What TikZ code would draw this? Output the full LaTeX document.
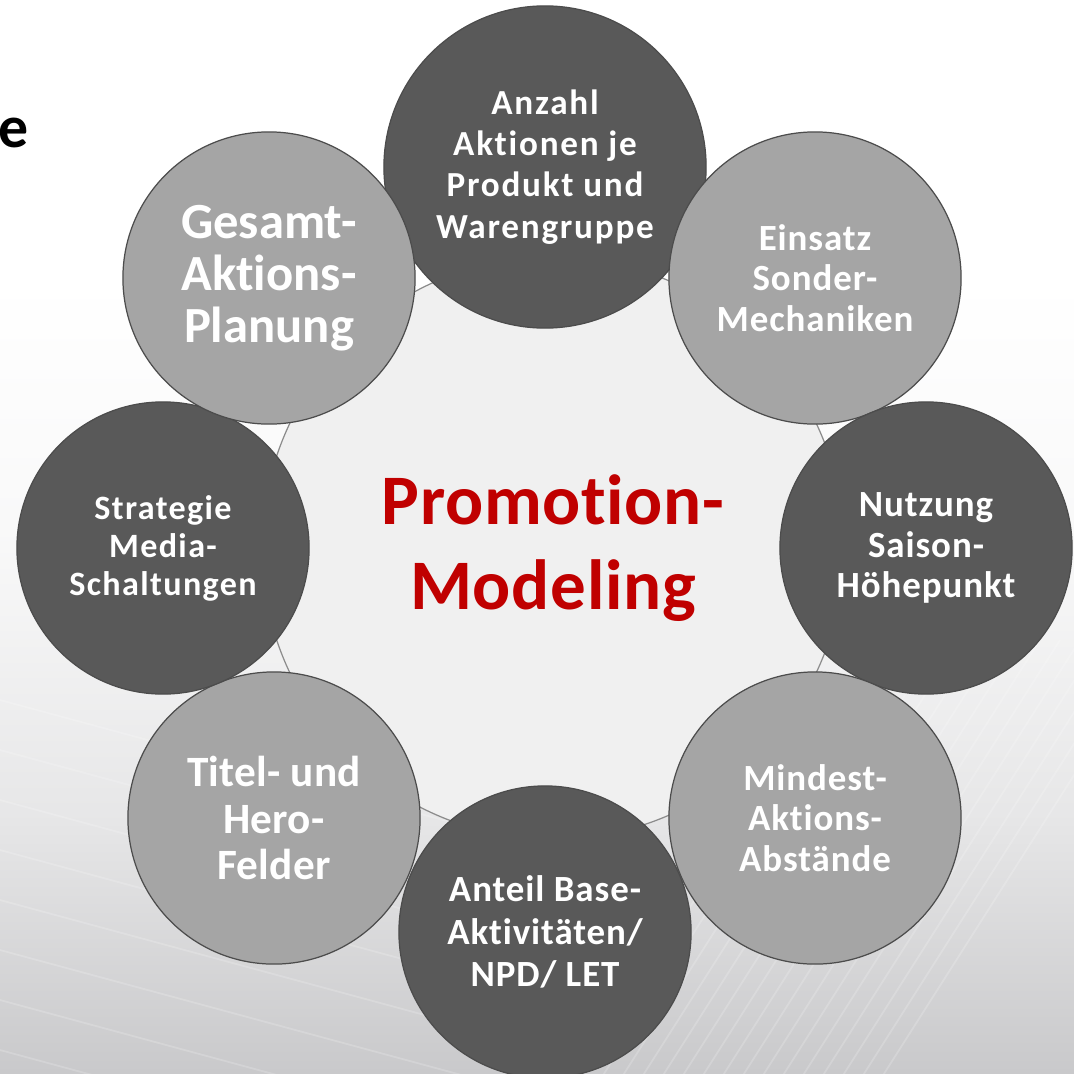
\documentclass[tikz,border=0pt]{standalone}
\usepackage{fontspec}
\setmainfont{Carlito}[Ligatures=NoCommon]
\usetikzlibrary{positioning}

\definecolor{darkfill}{HTML}{595959}
\definecolor{lightfill}{HTML}{A5A5A5}
\definecolor{hubfill}{HTML}{F0F0F0}
\definecolor{hubred}{HTML}{C00000}
\definecolor{bgbot}{HTML}{C9C9CB}

\pgfdeclareverticalshading{bgshade}{100bp}{color(0bp)=(bgbot); color(25bp)=(bgbot); color(37bp)=(bgbot!45!white); color(50bp)=(bgbot!12!white); color(62bp)=(white); color(100bp)=(white)}

\newcommand{\bubfont}[3]{\fontsize{#1}{#2}\selectfont\bfseries\addfontfeatures{LetterSpace=#3}}

\begin{document}
\begin{tikzpicture}[x=0.01cm, y=-0.01cm,
  every node/.style={align=center, text=white},
  bubble/.style={circle, draw=black!70, line width=0.35pt, minimum size=2.92cm, inner sep=0pt},
  darkbub/.style={bubble, fill=darkfill},
  lightbub/.style={bubble, fill=lightfill},
  midfont/.style={font=\bubfont{10.5}{11.6}{2.5}},
  hub/.style={circle, fill=hubfill, draw=black!45, line width=0.35pt, minimum size=5.82cm, inner sep=0pt,
    text=hubred, font=\bubfont{20.2}{24.2}{1}}]
\useasboundingbox (0,0) rectangle (1074,1073);
\path[shading=bgshade] (0,0) rectangle (1074,1073);
% faint streaks in the background
\begin{scope}[white, opacity=.18, line width=0.5pt]
\clip (0,0) rectangle (1074,1073);
\foreach \y in {700,750,...,1100} \draw (0,\y) -- ++(480,130);
\foreach \x in {860,880,...,1160} \draw (\x,640) -- ++(-280,440);
\end{scope}

\node[text=black, anchor=base west, inner sep=0pt, font=\fontsize{17}{20}\selectfont\bfseries] (cut) at (-2,147) {e};

\node[hub] (hub) at (553,548) {Promotion-\\Modeling};

\node[darkbub, minimum size=3.22cm, font=\bubfont{10}{11.7}{5}] (anzahl) at (545,167) {Anzahl\\Aktionen je\\Produkt und\\Warengruppe};
\node[lightbub, midfont] (einsatz) at (815,278) {Einsatz\\Sonder-\\Mechaniken};
\node[darkbub, midfont] (nutzung) at (926,548) {Nutzung\\Saison-\\Höhepunkt};
\node[lightbub, midfont] (mindest) at (815,818) {Mindest-\\Aktions-\\Abstände};
\node[darkbub, font=\bubfont{10.5}{12}{2.5}] (anteil) at (545,932) {Anteil Base-\\Aktivitäten/\\NPD/ LET};
\node[lightbub, font=\bubfont{12.3}{13.1}{0.5}] (titel) at (274,818) {Titel- und\\Hero-\\Felder};
\node[darkbub, font=\bubfont{9.7}{10.8}{4}] (strategie) at (163,548) {Strategie\\Media-\\Schaltungen};
\node[lightbub, font=\bubfont{14.4}{14.8}{0}] (gesamt) at (269,278) {Gesamt-\\Aktions-\\Planung};
\end{tikzpicture}
\end{document}
